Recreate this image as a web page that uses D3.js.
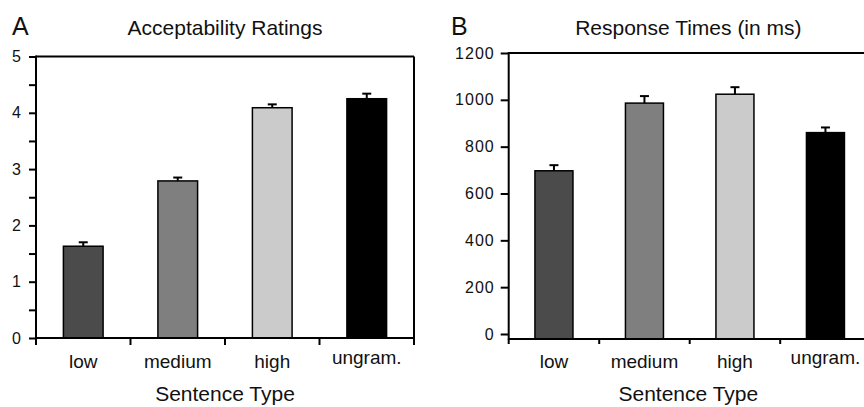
<!DOCTYPE html>
<html>
<head>
<meta charset="utf-8">
<script src="https://cdn.jsdelivr.net/npm/d3@7"></script>
<style>
  body { margin: 0; background: #fff; }
  text { font-family: "Liberation Sans", Arial, sans-serif; fill: #111; }
</style>
</head>
<body>
<div id="chart"></div>
<script>
// data
let categories = ["low", "medium", "high", "ungram."];
let barColors = ["#4b4b4b", "#7f7f7f", "#cbcbcb", "#000000"];

let ratingMeans = [1.63, 2.79, 4.09, 4.25];
let ratingErrors = [0.07, 0.06, 0.06, 0.09];
let ratingTicks = [0, 1, 2, 3, 4, 5];
let ratingMinorTicks = [0.5, 1.5, 2.5, 3.5, 4.5];

let rtMeans = [697, 986, 1024, 860];
let rtErrors = [24, 30, 30, 22];
let rtTicks = [0, 200, 400, 600, 800, 1000, 1200];

let width = 864, height = 407;
let svg = d3.select("#chart").append("svg").attr("width", width).attr("height", height);

function drawPanel(opt) {
    let g = svg.append("g");
    let x = d3.scaleBand().domain(categories).range([opt.left, opt.right]).padding(0);
    let y = d3.scaleLinear().domain([0, opt.max]).range([opt.zeroY, opt.top]);
    let bw = x.bandwidth();
    let barW = bw * 0.42;

    // panel letter + title
    g.append("text").attr("x", opt.letterX).attr("y", 35).attr("font-size", 25).text(opt.letter);
    g.append("text").attr("x", (opt.left + opt.titleRight) / 2).attr("y", 35)
        .attr("text-anchor", "middle").attr("font-size", 21).text(opt.title);

    // frame lines
    g.append("line").attr("x1", opt.left).attr("x2", opt.frameRight)
        .attr("y1", y(opt.max)).attr("y2", y(opt.max)).attr("stroke", "#000").attr("stroke-width", 2);
    if (opt.rightBorder) {
        g.append("line").attr("x1", opt.right).attr("x2", opt.right)
            .attr("y1", y(opt.max)).attr("y2", opt.baseY).attr("stroke", "#000").attr("stroke-width", 2);
    }

    // bars
    g.selectAll(".bar").data(opt.means).enter().append("rect")
        .attr("x", (d, i) => x(categories[i]) + (bw - barW) / 2)
        .attr("y", d => y(d))
        .attr("width", barW)
        .attr("height", d => opt.baseY - y(d))
        .attr("fill", (d, i) => barColors[i])
        .attr("stroke", "#000")
        .attr("stroke-width", 1.5);

    // error bars (upper only)
    let capW = 9;
    g.selectAll(".err").data(opt.means).enter().append("line")
        .attr("x1", (d, i) => x(categories[i]) + bw / 2)
        .attr("x2", (d, i) => x(categories[i]) + bw / 2)
        .attr("y1", d => y(d))
        .attr("y2", (d, i) => y(d + opt.errors[i]))
        .attr("stroke", "#000").attr("stroke-width", 2);
    g.selectAll(".cap").data(opt.means).enter().append("line")
        .attr("x1", (d, i) => x(categories[i]) + bw / 2 - capW / 2)
        .attr("x2", (d, i) => x(categories[i]) + bw / 2 + capW / 2)
        .attr("y1", (d, i) => y(d + opt.errors[i]))
        .attr("y2", (d, i) => y(d + opt.errors[i]))
        .attr("stroke", "#000").attr("stroke-width", 2);

    // y axis
    let yAxis = d3.axisLeft(y).tickValues(opt.ticks).tickFormat(d3.format("d"))
        .tickSize(opt.tickLen).tickPadding(opt.tickPad);
    let ya = g.append("g").attr("transform", `translate(${opt.left},0)`).call(yAxis);
    ya.select(".domain").remove();
    ya.selectAll(".tick line").attr("stroke", "#000").attr("stroke-width", 2);
    ya.selectAll(".tick text").attr("font-size", 16).attr("fill", "#111")
        .attr("letter-spacing", 1)
        .attr("font-family", "Liberation Sans, Arial, sans-serif");
    if (opt.minor) {
        let ym = g.append("g").attr("transform", `translate(${opt.left},0)`)
            .call(d3.axisLeft(y).tickValues(opt.minor).tickSize(opt.tickLen).tickFormat(""));
        ym.select(".domain").remove();
        ym.selectAll(".tick line").attr("stroke", "#000").attr("stroke-width", 2);
    }
    g.append("line").attr("x1", opt.left).attr("x2", opt.left)
        .attr("y1", y(opt.max) - 1).attr("y2", opt.baseY + 1).attr("stroke", "#000").attr("stroke-width", 2);

    // x axis with ticks on band boundaries
    g.append("line").attr("x1", opt.left).attr("x2", opt.right)
        .attr("y1", opt.baseY).attr("y2", opt.baseY).attr("stroke", "#000").attr("stroke-width", 2);
    let edges = categories.map(c => x(c)).concat([x(categories[categories.length - 1]) + bw]);
    g.selectAll(".xtick").data(edges).enter().append("line")
        .attr("x1", d => d).attr("x2", d => d)
        .attr("y1", opt.baseY).attr("y2", opt.baseY + opt.xTickLen)
        .attr("stroke", "#000").attr("stroke-width", 2);
    g.selectAll(".xlabel").data(categories).enter().append("text")
        .attr("x", d => x(d) + bw / 2)
        .attr("y", (d, i) => i === 3 ? 364 : 368)
        .attr("text-anchor", "middle").attr("font-size", 19)
        .text(d => d);
    g.append("text").attr("x", (opt.left + opt.titleRight) / 2).attr("y", 401)
        .attr("text-anchor", "middle").attr("font-size", 21).text("Sentence Type");
}

drawPanel({
    letter: "A", letterX: 12, title: "Acceptability Ratings",
    means: ratingMeans, errors: ratingErrors, ticks: ratingTicks, minor: ratingMinorTicks,
    max: 5, left: 36, right: 414, frameRight: 414, titleRight: 414, rightBorder: true,
    top: 56.5, zeroY: 338, baseY: 338, tickLen: 7, tickPad: 7, xTickLen: 7
});

drawPanel({
    letter: "B", letterX: 451, title: "Response Times (in ms)",
    means: rtMeans, errors: rtErrors, ticks: rtTicks, minor: null,
    max: 1200, left: 508.7, right: 870.7, frameRight: 866, titleRight: 868, rightBorder: false,
    top: 53, zeroY: 334, baseY: 339, tickLen: 8, tickPad: 6, xTickLen: 5
});
</script>
</body>
</html>
